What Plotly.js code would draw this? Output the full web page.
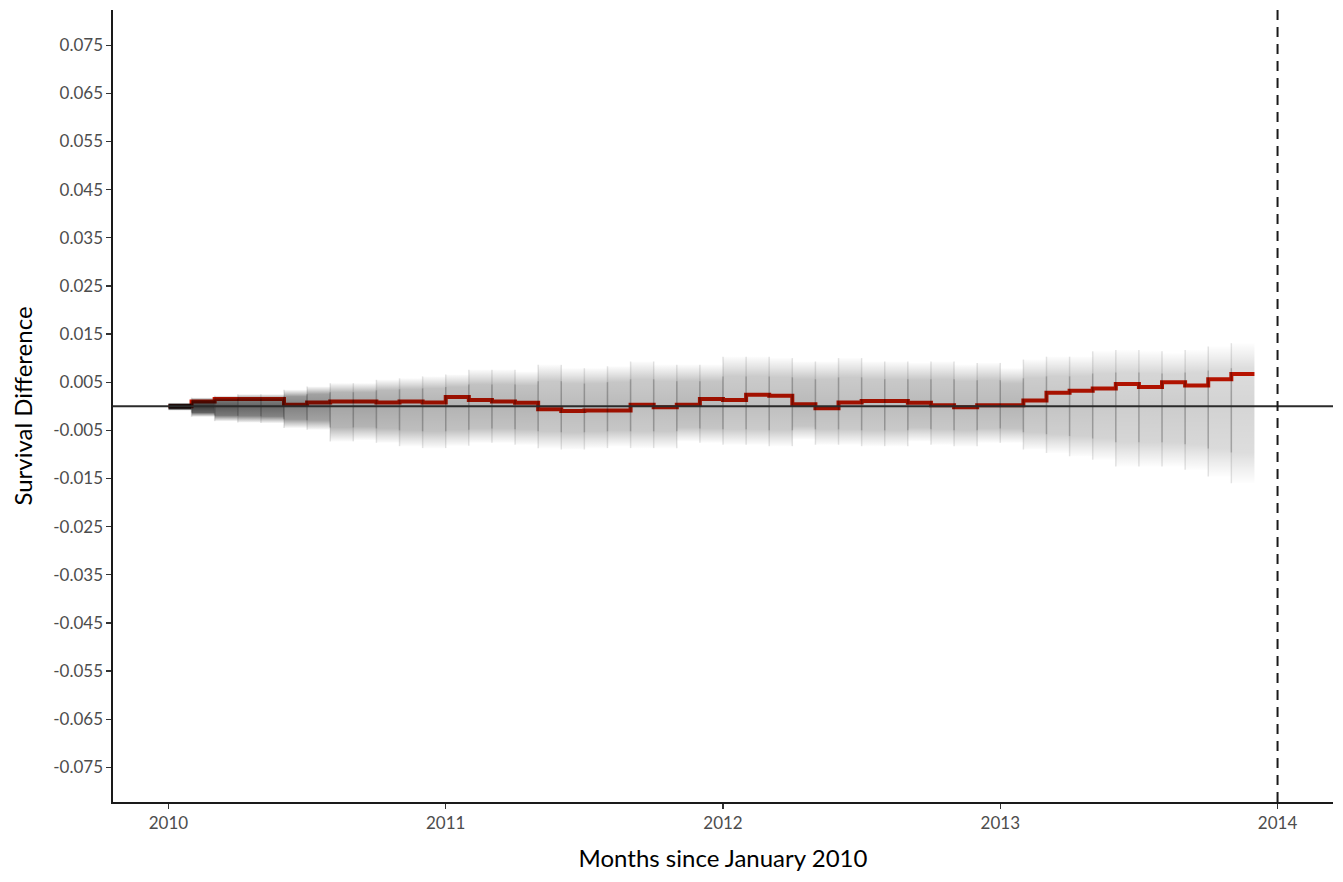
<!DOCTYPE html>
<html>
<head>
<meta charset="utf-8">
<script src="https://cdn.plot.ly/plotly-3.0.1.min.js"></script>
<style>
  html, body { margin: 0; padding: 0; background: #ffffff; }
  #chart { width: 1343px; height: 882px; }
</style>
</head>
<body>
<div id="chart"></div>
<script>
// Months since January 2010 (step positions)
const months = [0,1,2,3,4,5,6,7,8,9,10,11,12,13,14,15,16,17,18,19,20,21,22,23,
                24,25,26,27,28,29,30,31,32,33,34,35,36,37,38,39,40,41,42,43,44,45,46,47];

// Observed survival difference (red step line)
const observed = [0.0000,0.0010,0.0015,0.0015,0.0015,0.0003,0.0008,0.0010,0.0010,0.0008,0.0010,0.0008,
                  0.0019,0.0013,0.0010,0.0007,-0.0006,-0.0010,-0.0009,-0.0009,0.0003,-0.0002,0.0003,0.0015,
                  0.0013,0.0024,0.0022,0.0004,-0.0004,0.0008,0.0011,0.0011,0.0007,0.0002,-0.0002,0.0002,
                  0.0002,0.0012,0.0028,0.0032,0.0037,0.0046,0.0040,0.0050,0.0043,0.0056,0.0067,0.0067];

// Permutation draws: outer envelope (faint edges) per month
const permHi = [0.0007,0.0018,0.0022,0.0025,0.0025,0.0034,0.0041,0.0048,0.0048,0.0055,0.0058,0.0062,
                0.0066,0.0076,0.0076,0.0072,0.0086,0.0079,0.0079,0.0083,0.0093,0.0086,0.0086,0.0086,
                0.0103,0.0103,0.0100,0.0093,0.0093,0.0100,0.0093,0.0093,0.0090,0.0093,0.0086,0.0090,
                0.0079,0.0097,0.0103,0.0103,0.0114,0.0117,0.0114,0.0110,0.0117,0.0124,0.0131,0.0131];
const permLo = [-0.0009,-0.0022,-0.0031,-0.0034,-0.0035,-0.0045,-0.0049,-0.0073,-0.0070,-0.0076,-0.0083,-0.0087,
                -0.0082,-0.0076,-0.0076,-0.0080,-0.0087,-0.0090,-0.0087,-0.0083,-0.0087,-0.0087,-0.0073,-0.0076,
                -0.0080,-0.0080,-0.0083,-0.0069,-0.0080,-0.0080,-0.0083,-0.0083,-0.0073,-0.0080,-0.0083,-0.0076,
                -0.0076,-0.0090,-0.0097,-0.0104,-0.0111,-0.0125,-0.0125,-0.0125,-0.0132,-0.0146,-0.0160,-0.0160];

// Permutation draws: dense core per month
const coreHi = [0.0004,0.0011,0.0013,0.0015,0.0015,0.0020,0.0025,0.0029,0.0029,0.0033,0.0035,0.0037,
                0.0040,0.0045,0.0045,0.0043,0.0052,0.0047,0.0047,0.0050,0.0056,0.0052,0.0052,0.0052,
                0.0062,0.0062,0.0060,0.0056,0.0056,0.0060,0.0056,0.0056,0.0054,0.0056,0.0052,0.0054,
                0.0047,0.0058,0.0062,0.0062,0.0068,0.0070,0.0068,0.0066,0.0070,0.0074,0.0079,0.0079];
const coreLo = [-0.0005,-0.0013,-0.0019,-0.0020,-0.0021,-0.0027,-0.0029,-0.0044,-0.0042,-0.0046,-0.0050,-0.0052,
                -0.0049,-0.0046,-0.0046,-0.0048,-0.0052,-0.0054,-0.0052,-0.0050,-0.0052,-0.0052,-0.0044,-0.0046,
                -0.0048,-0.0048,-0.0050,-0.0041,-0.0048,-0.0048,-0.0050,-0.0050,-0.0044,-0.0048,-0.0050,-0.0046,
                -0.0046,-0.0054,-0.0058,-0.0062,-0.0067,-0.0075,-0.0075,-0.0075,-0.0079,-0.0088,-0.0096,-0.0096];

// Axis ticks
const yTickVals = [0.075,0.065,0.055,0.045,0.035,0.025,0.015,0.005,-0.005,-0.015,-0.025,-0.035,-0.045,-0.055,-0.065,-0.075];
const yTickText = yTickVals.map(v => v.toFixed(3));
const xTickVals = [0, 12, 24, 36, 48];
const xTickText = ['2010', '2011', '2012', '2013', '2014'];
const studyEnd = 48;

const traces = [];

// observed line first, so the permutation cloud overlays it
traces.push({
  type: 'scatter', mode: 'lines', x: months, y: observed,
  line: { shape: 'hv', color: 'rgb(212,22,0)', width: 4 },
  hoverinfo: 'skip', showlegend: false
});

const rgba = a => 'rgba(0,0,0,' + Math.max(0, Math.min(1, a)).toFixed(3) + ')';

// permutation cloud: one gradient-filled cell per month
for (let i = 0; i < months.length - 1; i++) {
  const m0 = months[i], m1 = months[i + 1];
  const lo = permLo[i], hi = permHi[i];
  const spread = hi - lo;
  const a = 1 - Math.exp(-0.0047 / spread);
  const pos = v => Math.max(0.001, Math.min(0.999, (v - lo) / spread));
  const pCL = pos(coreLo[i]), pCH = pos(coreHi[i]), pZ = pos(0);
  const stops = [[0, rgba(a * 0.04)], [pCL * 0.5, rgba(a * 0.45)], [pCL, rgba(a * 0.9)]];
  if (pZ > pCL && pZ < pCH) stops.push([pZ, rgba(a * 1.1)]);
  stops.push([pCH, rgba(a * 0.9)], [pCH + (1 - pCH) * 0.5, rgba(a * 0.45)], [1, rgba(a * 0.04)]);
  traces.push({
    type: 'scatter', mode: 'lines',
    x: [m0, m1, m1, m0, m0],
    y: [lo, lo, hi, hi, lo],
    fill: 'toself', fillcolor: rgba(a),
    fillgradient: { type: 'vertical', colorscale: stops, start: lo, stop: hi },
    line: { width: 0 }, hoverinfo: 'skip', showlegend: false
  });
}

function addJumps(hi, lo, color) {
  const xs = [], ys = [];
  for (let i = 1; i < months.length - 1; i++) {
    xs.push(months[i], months[i], null);
    ys.push(Math.min(lo[i - 1], lo[i]), Math.max(hi[i - 1], hi[i]), null);
  }
  traces.push({
    type: 'scatter', mode: 'lines', x: xs, y: ys,
    line: { color: color, width: 1.5 }, hoverinfo: 'skip', showlegend: false
  });
}
addJumps(permHi, permLo, 'rgba(0,0,0,0.11)');
addJumps(coreHi, coreLo, 'rgba(0,0,0,0.17)');

const tickFont = { family: 'Lato, "Open Sans", sans-serif', size: 17, color: '#4d4d4d' };

const layout = {
  width: 1343, height: 882,
  margin: { l: 113, r: 10, t: 10, b: 80 },
  paper_bgcolor: '#ffffff', plot_bgcolor: '#ffffff',
  showlegend: false,
  font: { family: 'Lato, "Open Sans", sans-serif', color: '#000' },
  xaxis: {
    range: [-2.4, 50.4], tickmode: 'array', tickvals: xTickVals, ticktext: xTickText,
    showgrid: false, zeroline: false, showline: true, linecolor: '#1a1a1a', linewidth: 1.6,
    ticks: 'outside', ticklen: 5, tickwidth: 1.3, tickcolor: '#333',
    tickfont: tickFont,
    title: { text: 'Months since January 2010', font: { size: 24, color: '#000' }, standoff: 18 }
  },
  yaxis: {
    range: [-0.0822, 0.0823], tickmode: 'array', tickvals: yTickVals, ticktext: yTickText,
    showgrid: false, zeroline: false, showline: true, linecolor: '#1a1a1a', linewidth: 1.6,
    ticks: 'outside', ticklen: 5, tickwidth: 1.3, tickcolor: '#333',
    tickfont: tickFont,
    title: { text: 'Survival Difference', font: { size: 24, color: '#000' }, standoff: 14 }
  },
  shapes: [
    { type: 'line', xref: 'paper', x0: 0, x1: 1, yref: 'y', y0: 0, y1: 0,
      layer: 'above', line: { color: '#2b2b2b', width: 2 } },
    { type: 'line', xref: 'x', x0: studyEnd, x1: studyEnd, yref: 'paper', y0: 0, y1: 1,
      layer: 'above', line: { color: '#1a1a1a', width: 2, dash: '10px,7px' } }
  ]
};

Plotly.newPlot('chart', traces, layout, { displayModeBar: false, staticPlot: true });
</script>
</body>
</html>
